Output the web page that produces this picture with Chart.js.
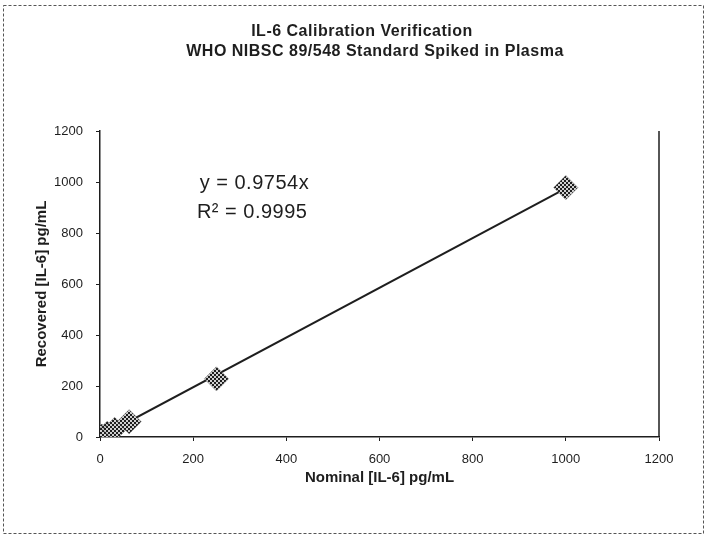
<!DOCTYPE html>
<html lang="en">
<head>
  <meta charset="UTF-8">
  <title>IL-6 Calibration Verification</title>
  <script src="https://cdn.jsdelivr.net/npm/chart.js@4.4.1/dist/chart.umd.min.js"></script>
  <style>
    html, body {
      margin: 0;
      padding: 0;
      background: #fff;
    }
    #wrap {
      width: 707px;
      height: 536px;
    }
  </style>
</head>
<body>
  <div id="wrap"><canvas id="calChart"></canvas></div>
  <script>
    // values
    const nominal = [0, 3.9, 15.6, 31.3, 62.5, 250, 1000];
    const recovered = [0, 4, 15, 30, 60, 228, 978];
    const trendX = [0, 1000];
    const trendY = [0, 975.4];
    const titleLines = ['IL-6 Calibration Verification', 'WHO NIBSC 89/548 Standard Spiked in Plasma'];
    const equationLines = ['y = 0.9754x', 'R\u00b2 = 0.9995'];
    const axisTicks = [0, 200, 400, 600, 800, 1000, 1200];

    const FONT = '"Liberation Sans", Arial, sans-serif';
    const INK = '#1e1e1e';

    // checkered grey like the scanned markers
    function checker() {
      const c = document.createElement('canvas');
      c.width = 4; c.height = 4;
      const g = c.getContext('2d');
      g.fillStyle = '#d0d0d0';
      g.fillRect(0, 0, 4, 4);
      g.fillStyle = '#1e1e1e';
      g.fillRect(0, 0, 2, 2);
      g.fillRect(2, 2, 2, 2);
      return g.createPattern(c, 'repeat');
    }

    const decorations = {
      id: 'decorations',
      afterDraw(chart) {
        const ctx = chart.ctx;
        const a = chart.chartArea;
        ctx.save();

        // right edge of plot area
        ctx.strokeStyle = INK;
        ctx.lineWidth = 1.5;
        ctx.beginPath();
        ctx.moveTo(a.right, a.top);
        ctx.lineTo(a.right, a.bottom);
        ctx.stroke();

        // outer dotted frame
        ctx.strokeStyle = '#555';
        ctx.lineWidth = 1;
        ctx.setLineDash([3, 2]);
        ctx.strokeRect(3.5, 5.5, 700, 528);
        ctx.setLineDash([]);

        // title
        ctx.fillStyle = INK;
        ctx.textAlign = 'center';
        ctx.textBaseline = 'middle';
        ctx.font = 'bold 16px ' + FONT;
        ctx.letterSpacing = '0.5px';
        ctx.fillText(titleLines[0], 362, 32);
        ctx.fillText(titleLines[1], 375, 52);

        // trendline equation
        const xs = chart.scales.x, ys = chart.scales.y;
        ctx.textAlign = 'left';
        ctx.font = '20px ' + FONT;
        ctx.fillText(equationLines[0], xs.getPixelForValue(214), ys.getPixelForValue(993));
        ctx.fillText(equationLines[1], xs.getPixelForValue(208), ys.getPixelForValue(880));
        ctx.letterSpacing = '0px';
        ctx.restore();
      }
    };

    const axisCommon = {
      type: 'linear',
      min: 0,
      max: 1200,
      afterBuildTicks: function(scale) {
        scale.ticks = axisTicks.map(v => ({ value: v }));
      },
      border: { display: true, color: INK, width: 1.5 },
      grid: { display: true, drawOnChartArea: false, color: INK, tickLength: 4 },
      ticks: {
        color: INK,
        font: { family: FONT, size: 13 },
        callback: v => String(v)
      },
      title: { display: true, color: INK, font: { family: FONT, size: 15, weight: 'bold' } }
    };

    const ctx = document.getElementById('calChart').getContext('2d');
    new Chart(ctx, {
      type: 'scatter',
      data: {
        datasets: [
          {
            label: 'Recovered',
            data: nominal.map((x, i) => ({ x: x, y: recovered[i] })),
            pointStyle: 'rectRot',
            pointRadius: 12,
            pointHoverRadius: 12,
            backgroundColor: checker(),
            borderColor: '#444',
            borderWidth: 0.5,
            order: 1
          },
          {
            label: 'Linear',
            type: 'line',
            data: trendX.map((x, i) => ({ x: x, y: trendY[i] })),
            borderColor: INK,
            borderWidth: 2,
            pointRadius: 0,
            fill: false,
            order: 2
          }
        ]
      },
      options: {
        responsive: true,
        maintainAspectRatio: false,
        animation: false,
        layout: { padding: { left: 29, right: 48, top: 131, bottom: 46 } },
        plugins: {
          legend: { display: false },
          tooltip: { enabled: false }
        },
        scales: {
          x: Object.assign({}, axisCommon, {
            ticks: Object.assign({}, axisCommon.ticks, { padding: 11 }),
            title: Object.assign({}, axisCommon.title, { text: 'Nominal [IL-6] pg/mL', padding: { top: 0, bottom: 3 } }),
            afterFit: function(scale) { scale.height = 53; }
          }),
          y: Object.assign({}, axisCommon, {
            ticks: Object.assign({}, axisCommon.ticks, { padding: 13 }),
            title: Object.assign({}, axisCommon.title, { text: 'Recovered [IL-6] pg/mL', padding: { top: 4, bottom: 0 } }),
            afterFit: function(scale) { scale.width = 71; }
          })
        }
      },
      plugins: [decorations]
    });
  </script>
</body>
</html>
